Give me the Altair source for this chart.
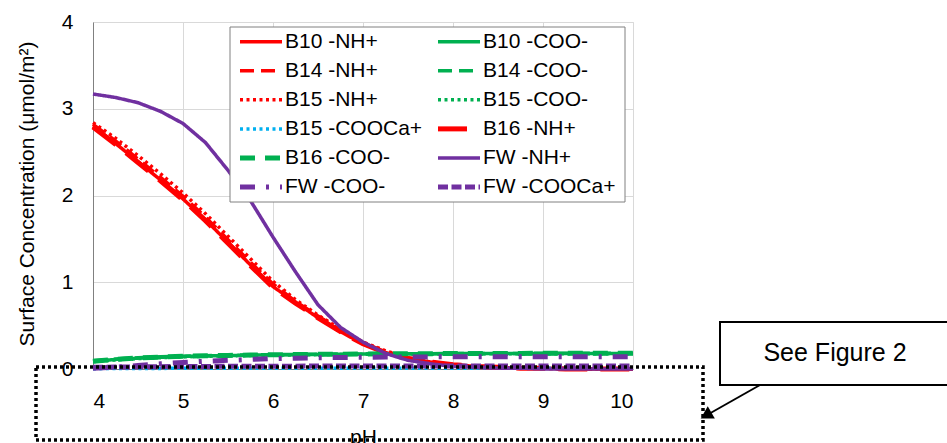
import altair as alt
import pandas as pd

# ---------------- data ----------------
pH = [4.0, 4.25, 4.5, 4.75, 5.0, 5.25, 5.5, 5.75, 6.0, 6.25, 6.5, 6.75, 7.0,
      7.25, 7.5, 7.75, 8.0, 8.25, 8.5, 8.75, 9.0, 9.25, 9.5, 9.75, 10.0]

series_names = ["B10 -NH+", "B10 -COO-", "B14 -NH+", "B14 -COO-",
                "B15 -NH+", "B15 -COO-", "B15 -COOCa+", "B16 -NH+",
                "B16 -COO-", "FW -NH+", "FW -COO-", "FW -COOCa+"]

b10_nh = [2.80, 2.60, 2.39, 2.18, 1.96, 1.72, 1.46, 1.20, 0.95, 0.77, 0.59, 0.43, 0.29,
          0.19, 0.12, 0.08, 0.05, 0.03, 0.02, 0.01, 0.01, 0.00, 0.00, 0.00, 0.00]
b10_coo = [0.09, 0.11, 0.125, 0.135, 0.145, 0.15, 0.155, 0.16, 0.163, 0.166, 0.168, 0.17, 0.172,
           0.174, 0.175, 0.176, 0.177, 0.178, 0.178, 0.179, 0.18, 0.18, 0.18, 0.18, 0.18]
b14_nh = [2.82, 2.63, 2.42, 2.21, 1.99, 1.75, 1.49, 1.23, 0.98, 0.78, 0.61, 0.45, 0.30,
          0.20, 0.13, 0.08, 0.05, 0.03, 0.02, 0.01, 0.01, 0.00, 0.00, 0.00, 0.00]
b14_coo = [0.095, 0.115, 0.13, 0.14, 0.148, 0.154, 0.158, 0.162, 0.165, 0.168, 0.17, 0.172, 0.174,
           0.175, 0.176, 0.177, 0.178, 0.179, 0.18, 0.18, 0.181, 0.181, 0.182, 0.182, 0.182]
b15_nh = [2.84, 2.66, 2.46, 2.25, 2.03, 1.79, 1.53, 1.27, 1.01, 0.80, 0.62, 0.46, 0.31,
          0.21, 0.13, 0.08, 0.05, 0.03, 0.02, 0.01, 0.01, 0.00, 0.00, 0.00, 0.00]
b15_coo = [0.085, 0.105, 0.12, 0.13, 0.14, 0.147, 0.152, 0.157, 0.16, 0.163, 0.166, 0.168, 0.17,
           0.171, 0.172, 0.173, 0.174, 0.175, 0.175, 0.176, 0.176, 0.177, 0.177, 0.177, 0.177]
b15_cooca = [0.004, 0.005, 0.006, 0.007, 0.008, 0.008, 0.009, 0.009, 0.01, 0.01, 0.01, 0.01, 0.01,
             0.01, 0.01, 0.01, 0.01, 0.01, 0.01, 0.01, 0.01, 0.01, 0.01, 0.01, 0.01]
b16_nh = [2.79, 2.59, 2.38, 2.17, 1.95, 1.71, 1.45, 1.19, 0.94, 0.76, 0.59, 0.43, 0.29,
          0.19, 0.12, 0.08, 0.05, 0.03, 0.02, 0.01, 0.01, 0.00, 0.00, 0.00, 0.00]
b16_coo = [0.09, 0.11, 0.127, 0.137, 0.146, 0.152, 0.157, 0.161, 0.164, 0.167, 0.169, 0.171, 0.173,
           0.175, 0.176, 0.177, 0.178, 0.179, 0.18, 0.18, 0.181, 0.181, 0.182, 0.182, 0.182]
fw_nh = [3.17, 3.13, 3.07, 2.97, 2.83, 2.61, 2.29, 1.94, 1.52, 1.12, 0.74, 0.48, 0.31,
         0.18, 0.10, 0.06, 0.03, 0.02, 0.01, 0.01, 0.00, 0.00, 0.00, 0.00, 0.00]
fw_coo = [0.01, 0.02, 0.04, 0.06, 0.075, 0.09, 0.10, 0.11, 0.12, 0.125, 0.13, 0.133, 0.135,
          0.137, 0.138, 0.14, 0.14, 0.14, 0.14, 0.14, 0.14, 0.14, 0.14, 0.14, 0.14]
fw_cooca = [0.02, 0.022, 0.025, 0.027, 0.029, 0.03, 0.031, 0.032, 0.033, 0.033, 0.034, 0.034, 0.034,
            0.034, 0.034, 0.034, 0.034, 0.034, 0.034, 0.034, 0.034, 0.034, 0.034, 0.034, 0.034]

series_values = [b10_nh, b10_coo, b14_nh, b14_coo, b15_nh, b15_coo, b15_cooca,
                 b16_nh, b16_coo, fw_nh, fw_coo, fw_cooca]

x_ticks = [4, 5, 6, 7, 8, 9, 10]
y_ticks = [0, 1, 2, 3, 4]

# ---------------- styles ----------------
RED, GREEN, CYAN, PURPLE = "#FF0000", "#00B050", "#00B0F0", "#7030A0"
colors = [RED, GREEN, RED, GREEN, RED, GREEN, CYAN, RED, GREEN, PURPLE, PURPLE, PURPLE]
dashes = [[1, 0], [1, 0], [14, 7], [14, 7], [3, 3.5], [3, 3.5], [3, 3.5],
          [29, 13], [15, 10], [1, 0], [15, 11, 3, 11], [10, 3.5]]
widths = [3.5, 3.5, 3.5, 3.5, 3.5, 3.5, 3.5, 5, 5, 3.5, 5, 5]

FONT = "Liberation Sans"
FS = 21
W, H = 540, 347
OX, OY = 93, 22  # plot origin in the page

rows = []
for name, vals, w in zip(series_names, series_values, widths):
    for x, v in zip(pH, vals):
        rows.append({"series": name, "pH": x, "c": v, "w": w})
df = pd.DataFrame(rows)

color_scale = alt.Scale(domain=series_names, range=colors)
dash_scale = alt.Scale(domain=series_names, range=dashes)

lines = alt.Chart(df).mark_line().encode(
    x=alt.X("pH:Q", scale=alt.Scale(domain=[4, 10], nice=False, zero=False),
            axis=alt.Axis(values=x_ticks, format="d", title="pH",
                          labelFontSize=FS, labelFont=FONT, labelColor="black",
                          labelPadding=21, ticks=False, domainColor="#808080",
                          grid=True, gridColor="#d9d9d9",
                          titleFontSize=FS, titleFont=FONT, titleFontWeight="normal",
                          titleColor="black", titleX=W / 2, titleY=74,
                          titleAlign="center", titleBaseline="alphabetic")),
    y=alt.Y("c:Q", scale=alt.Scale(domain=[0, 4], nice=False),
            axis=alt.Axis(values=y_ticks, format="d",
                          title="Surface Concentration (μmol/m²)",
                          labelFontSize=FS, labelFont=FONT, labelColor="black",
                          labelPadding=20, ticks=False, domainColor="#808080",
                          grid=True, gridColor="#d9d9d9",
                          titleFontSize=FS, titleFont=FONT, titleFontWeight="normal",
                          titleColor="black", titleX=-66, titleY=H / 2 - 2,
                          titleAngle=270, titleAlign="center", titleBaseline="middle")),
    color=alt.Color("series:N", scale=color_scale, legend=None),
    strokeDash=alt.StrokeDash("series:N", scale=dash_scale, legend=None),
    strokeWidth=alt.StrokeWidth("w:Q", scale=None, legend=None),
    detail="series:N",
)

# ---------------- manual legend ----------------
leg_rows = []
for i, (name, w) in enumerate(zip(series_names, widths)):
    col, row = i % 2, i // 2
    x1 = 147 + col * 198
    leg_rows.append({"series": name, "lx": x1, "lx2": x1 + 42,
                     "ly": 19.7 + row * 29.06, "tx": x1 + 45, "w": w})
leg_df = pd.DataFrame(leg_rows)

one = pd.DataFrame({"a": [0]})

leg_box = alt.Chart(one).mark_rect(fill="white", stroke="#808080", strokeWidth=1).encode(
    x=alt.value(137), x2=alt.value(532), y=alt.value(5), y2=alt.value(180))

leg_sym = alt.Chart(leg_df).mark_rule().encode(
    x=alt.X("lx:Q", scale=None, axis=None),
    x2="lx2:Q",
    y=alt.Y("ly:Q", scale=None, axis=None),
    color=alt.Color("series:N", scale=color_scale, legend=None),
    strokeDash=alt.StrokeDash("series:N", scale=dash_scale, legend=None),
    strokeWidth=alt.StrokeWidth("w:Q", scale=None, legend=None),
)

leg_txt = alt.Chart(leg_df).mark_text(align="left", baseline="middle", font=FONT,
                                      fontSize=FS, color="black").encode(
    x=alt.X("tx:Q", scale=None, axis=None),
    y=alt.Y("ly:Q", scale=None, axis=None),
    text="series:N",
)

# ---------------- annotations ----------------
dotted_box = alt.Chart(one).mark_rect(fill="transparent", stroke="black", strokeWidth=3.5,
                                      strokeDash=[3, 3]).encode(
    x=alt.value(-57), x2=alt.value(610), y=alt.value(345), y2=alt.value(418))

callout = alt.Chart(one).mark_rect(fill="white", stroke="black", strokeWidth=2).encode(
    x=alt.value(627), x2=alt.value(920), y=alt.value(300), y2=alt.value(363))

callout_txt = alt.Chart(pd.DataFrame({"t": ["See Figure 2"]})).mark_text(
    font=FONT, fontSize=25, color="black", align="center", baseline="middle").encode(
    x=alt.value(742), y=alt.value(331), text="t:N")

arrow_line = alt.Chart(one).mark_rule(color="black", strokeWidth=2).encode(
    x=alt.value(667), y=alt.value(363), x2=alt.value(614), y2=alt.value(393))

arrow_head = alt.Chart(one).mark_point(shape="triangle-up", filled=True, size=200,
                                       angle=240, color="black", opacity=1).encode(
    x=alt.value(613), y=alt.value(393.5))

chart = alt.layer(lines, leg_box, leg_sym, leg_txt, dotted_box, callout, callout_txt,
                  arrow_line, arrow_head).properties(
    width=W, height=H,
    autosize="none",
    padding={"left": OX, "top": OY, "right": 947 - OX - W, "bottom": 443 - OY - H},
).configure_view(stroke="#808080", strokeWidth=1).configure(font=FONT, background="white")

chart.save("out.html", embed_options={"renderer": "svg", "actions": False})
